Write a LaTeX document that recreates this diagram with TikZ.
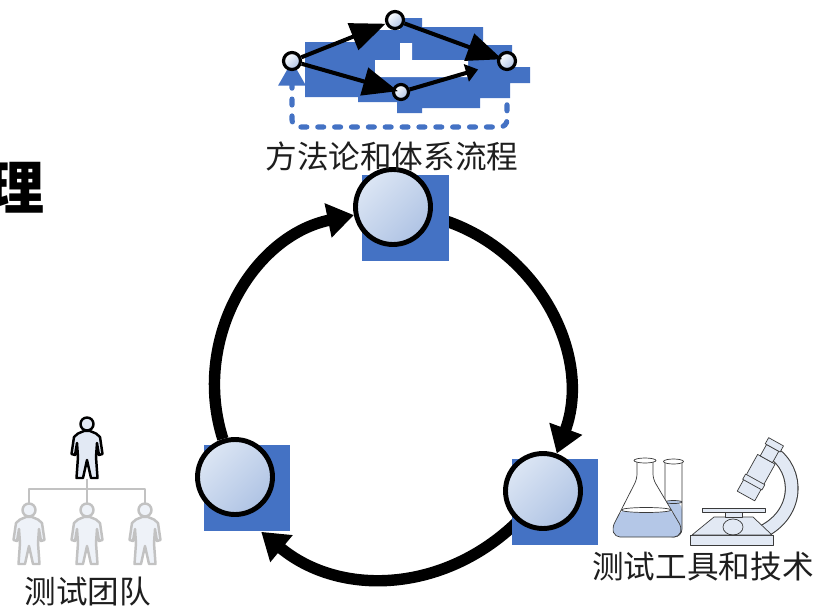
\documentclass[tikz,border=0pt]{standalone}
\usepackage{fontspec}
\newfontfamily\cjk{Noto Sans CJK SC}
\usetikzlibrary{arrows.meta,backgrounds}

\definecolor{cycleblue}{HTML}{4472C4}
\definecolor{balllight}{HTML}{DCE6F4}
\definecolor{balldark}{HTML}{AFC3E4}
\definecolor{liquid}{HTML}{B4C7E7}
\definecolor{glass}{HTML}{3A3A3A}
\definecolor{iconfill}{HTML}{E2E9F4}
\definecolor{staffgray}{HTML}{C2C2C2}
\definecolor{ink}{HTML}{1E1E1E}

\tikzset{
	hubbox/.style={fill=cycleblue, minimum size=1.74cm, inner sep=0pt},
	ball/.style={circle, draw=black, line width=2.8pt, minimum size=1.5cm, inner sep=0pt,
		top color=balllight, bottom color=balldark, shading angle=45},
	loopline/.style={line width=6.5pt, -{Triangle[length=15pt,width=19pt]}, looseness=1.02},
	stepdot/.style={circle, draw=black, line width=1.8pt, minimum size=0.34cm, inner sep=0pt,
		top color=white, bottom color=balldark, shading angle=45},
	flowline/.style={line width=2.3pt, -{Triangle[length=20pt,width=16pt]}},
	backflow/.style={cycleblue, line width=2.9pt, line cap=round, dash pattern=on 3.4pt off 6.2pt,
		rounded corners=0.14cm, -{Triangle[length=14pt,width=15pt]}},
	orgline/.style={staffgray, line width=1.7pt},
	cjktext/.style={font=\cjk\fontsize{18}{20}\selectfont, text=ink, inner sep=0pt},
	person/.pic={
		\draw[pic actions] (0,0) circle (6.5);
		\draw[pic actions] (-3,7) -- (-9,9.5) -- (-13,13) -- (-15.5,30) -- (-12,31) -- (-10,19)
			-- (-9,33) -- (-10.5,54) -- (-4,54) -- (0,36) -- (4,54) -- (10.5,54) -- (9,33)
			-- (10,19) -- (12,31) -- (15.5,30) -- (13,13) -- (9,9.5) -- (3,7) -- cycle;
	}
}

\begin{document}
\begin{tikzpicture}[x=0.02cm, y=-0.02cm, line join=round]
	\useasboundingbox (0,0) rectangle (816,609);

	\node[font=\cjk\bfseries\fontsize{33}{36}\selectfont, anchor=east, inner sep=0pt] (li) at (45,188) {理};

	% the three stations of the cycle
	\node[hubbox] (ms) at (405.5,218) {};
	\node[hubbox] (ts) at (247,488) {};
	\node[hubbox] (ks) at (555,502) {};
	\node[ball] (m) at (393,207) {};
	\node[ball] (t) at (235,477) {};
	\node[ball] (k) at (543,491) {};
	\begin{scope}[on background layer]
		\draw[loopline] (t) to[bend left=48] (m);
		\draw[loopline] (m) to[bend left=48] (k);
		\draw[loopline] (k) to[bend left=42] (ts.-72);
	\end{scope}

	\node[cjktext] (mlabel) at (392,156) {方法论和体系流程};
	\node[cjktext] (tlabel) at (88,592) {测试团队};
	\node[cjktext] (klabel) at (703,566) {测试工具和技术};

	% process icon
	\node[stepdot] (s1) at (292,61) {};
	\node[stepdot] (s2) at (395,20) {};
	\node[stepdot, minimum size=0.3cm] (s3) at (401,92) {};
	\node[stepdot] (s4) at (507,61) {};
	\coordinate (loopbase) at (400,127);
	\begin{scope}[on background layer]
		\fill[cycleblue] (305,42) -- (362,42) -- (362,30) -- (400,30) -- (400,18) -- (422,18) -- (422,27)
			-- (483,27) -- (483,45) -- (512,45) -- (512,67) -- (530,67) -- (530,83) -- (510,83) -- (510,98)
			-- (480,98) -- (480,108) -- (422,108) -- (422,113) -- (397,113) -- (397,102) -- (358,102)
			-- (358,97) -- (305,97) -- cycle;
		\fill[white] (400,43) rectangle (412,60) (375,60) rectangle (468,77);
		\draw[backflow] (s4.south) -- (s4.south |- loopbase) -- (s1 |- loopbase) -- (s1.center);
	\end{scope}
	\draw[flowline] (s1) -- (s2);
	\draw[flowline, shorten >=-0.12cm] (s1) -- (s3);
	\draw[flowline, shorten >=-0.1cm] (s2) -- (s4);
	\draw[flowline, -{Triangle[length=7pt,width=10pt]}, shorten >=0.4cm] (s3) -- (s4);

	% team
	\pic[draw=black, fill=iconfill, line width=1.4pt] at (87,424) {person};
	\foreach \x in {29,87,145}
		\pic[draw=staffgray, fill=iconfill!60, line width=1.4pt] at (\x,510) {person};
	\coordinate (lead) at (87,479);
	\coordinate (staff1) at (29,503);
	\coordinate (staff2) at (87,503);
	\coordinate (staff3) at (145,503);
	\draw[orgline] (lead) -- ++(0,10) coordinate (fork);
	\draw[orgline] (staff1) |- (fork) -| (staff3);
	\draw[orgline] (fork) -- (staff2);

	% test tube and flask
	\fill[white] (665,462) -- (665,537) -- (682,537) -- (682,462) -- cycle;
	\fill[liquid, rounded corners=0.16cm] (665,502) -- (665,537) -- (682,537) -- (682,502) -- cycle;
	\draw[glass, rounded corners=0.16cm] (665,462) -- (665,537) -- (682,537) -- (682,462);
	\draw[glass, fill=liquid] (673.5,502) ellipse (8.5 and 1.5);
	\draw[glass, fill=white] (673.5,461.5) ellipse (10 and 2.5);
	\fill[white, rounded corners=0.1cm] (637,461) -- (637,479) -- (612,528) -- (615,537) -- (679,537)
		-- (682,528) -- (653,479) -- (653,461) -- cycle;
	\fill[liquid, rounded corners=0.1cm] (621.2,510) -- (612,528) -- (615,537) -- (679,537) -- (682,528)
		-- (671.3,510) -- cycle;
	\draw[glass, rounded corners=0.1cm] (637,461) -- (637,479) -- (612,528) -- (615,537) -- (679,537)
		-- (682,528) -- (653,479) -- (653,461);
	\draw[glass, fill=white] (646.2,510) ellipse (25 and 2.5);
	\draw[glass, fill=white] (645,460.5) ellipse (11 and 2.5);

	% microscope
	\draw[glass, line width=7.8pt] (760,533) .. controls (800,515) and (800,470) .. (772,452);
	\draw[iconfill, line width=6.6pt] (760,533) .. controls (800,515) and (800,470) .. (772,452);
	\filldraw[glass, fill=iconfill] (690,535) rectangle (773,545);
	\filldraw[glass, fill=iconfill] (692,535) -- (714,517) -- (753,517) -- (772,535) -- cycle;
	\draw[glass] (733,527) ellipse (10 and 8);
	\filldraw[glass, fill=iconfill] (725,512) rectangle (742,517);
	\filldraw[glass, fill=iconfill] (702,508) rectangle (765,512);
	\begin{scope}[shift={(746,496)}, rotate=-29]
		\filldraw[glass, fill=iconfill] (-10,0) rectangle (10,-42);
		\filldraw[glass, fill=iconfill] (-11,-13) rectangle (11,-19);
		\filldraw[glass, fill=iconfill] (-7,-42) rectangle (7,-55);
		\filldraw[glass, fill=iconfill] (-8.5,-55) rectangle (8.5,-62);
	\end{scope}
\end{tikzpicture}
\end{document}
